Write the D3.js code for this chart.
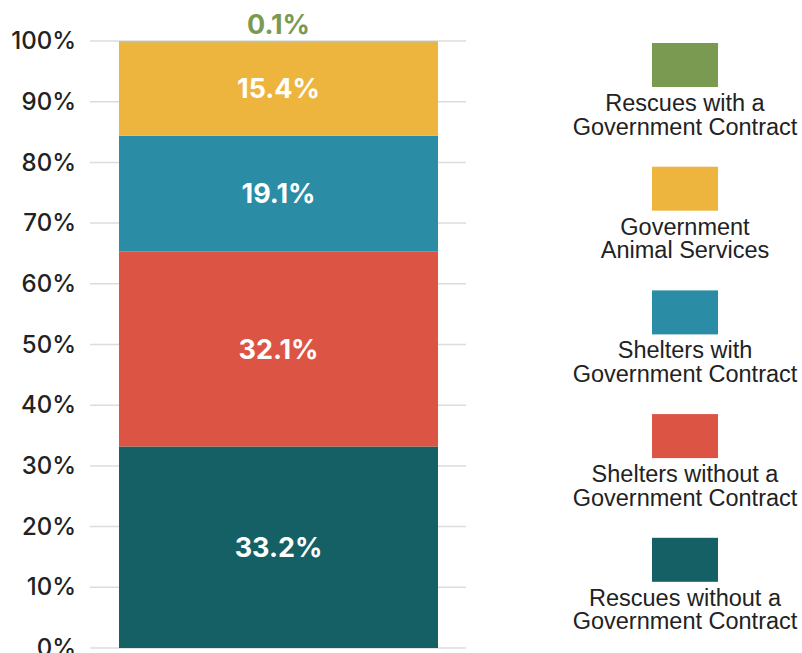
<!DOCTYPE html>
<html>
<head>
<meta charset="utf-8">
<script src="https://cdn.jsdelivr.net/npm/d3@7"></script>
<style>
  body { margin: 0; background: #fff; }
  svg { display: block; }
</style>
</head>
<body>
<svg id="grafico"></svg>
<script>
// dados do gráfico (de baixo para cima)
const categorias = [
  'Rescues without a Government Contract',
  'Shelters without a Government Contract',
  'Shelters with Government Contract',
  'Government Animal Services',
  'Rescues with a Government Contract'
];
const valores = [33.2, 32.1, 19.1, 15.4, 0.1];
const cores = ['#146064', '#dc5443', '#2a8ca5', '#edb53e', '#7a9a52'];
const legendaLinhas = [
  ['Rescues without a', 'Government Contract'],
  ['Shelters without a', 'Government Contract'],
  ['Shelters with', 'Government Contract'],
  ['Government', 'Animal Services'],
  ['Rescues with a', 'Government Contract']
];
const ticks = [0, 10, 20, 30, 40, 50, 60, 70, 80, 90, 100];

const largura = 802, altura = 653;
let svg = d3.select('#grafico').attr('width', largura).attr('height', altura);

// escalas
let fnY = d3.scaleLinear().domain([0, 100]).range([648, 41]);
let fnX = d3.scaleBand().domain(['total']).range([90, 467]).paddingInner(0).paddingOuter(0.0909);

// linhas de grade
svg.append('g')
  .selectAll('line')
  .data(ticks)
  .enter()
  .append('line')
  .attr('x1', 90).attr('x2', 466)
  .attr('y1', d => fnY(d)).attr('y2', d => fnY(d))
  .attr('stroke', '#dcdcdc').attr('stroke-width', 1.5);

// eixo y
let eixoY = svg.append('g')
  .attr('transform', 'translate(76,0)')
  .call(d3.axisLeft(fnY).tickValues(ticks).tickFormat(d => d + '%').tickSize(0).tickPadding(0));
eixoY.select('.domain').remove();
eixoY.selectAll('text')
  .attr('font-family', 'Inter, sans-serif')
  .attr('font-weight', 500)
  .attr('font-size', 24)
  .attr('fill', '#222');

// empilhamento
let acumulado = 0;
const pilha = valores.map((v, i) => {
  const y0 = acumulado;
  acumulado += v;
  return { y0: y0, y1: acumulado, v: v, cor: cores[i], cat: categorias[i] };
});

svg.append('g')
  .selectAll('rect')
  .data(pilha)
  .enter()
  .append('rect')
  .attr('x', fnX('total'))
  .attr('width', fnX.bandwidth())
  .attr('y', d => fnY(d.y1))
  .attr('height', d => fnY(d.y0) - fnY(d.y1))
  .attr('fill', d => d.cor);

// rótulos
svg.append('g')
  .selectAll('text')
  .data(pilha)
  .enter()
  .append('text')
  .attr('x', fnX('total') + fnX.bandwidth() / 2)
  .attr('y', d => d.v < 1 ? 25 : fnY((d.y0 + d.y1) / 2))
  .attr('dy', '0.35em')
  .attr('text-anchor', 'middle')
  .attr('font-family', 'Inter, sans-serif')
  .attr('font-weight', 700)
  .attr('font-size', 27)
  .attr('fill', d => d.v < 1 ? d.cor : '#fff')
  .text(d => d.v + '%');

// legenda (de cima para baixo)
const ordemLegenda = d3.range(valores.length).reverse();
let legenda = svg.append('g')
  .selectAll('g')
  .data(ordemLegenda)
  .enter()
  .append('g')
  .attr('transform', (d, i) => 'translate(685,' + (43 + i * 123.7) + ')');

legenda.append('rect')
  .attr('x', -33).attr('y', 0)
  .attr('width', 66).attr('height', 44)
  .attr('fill', d => cores[d]);

legenda.append('text')
  .attr('text-anchor', 'middle')
  .attr('font-family', '"Liberation Sans", Arial, sans-serif')
  .attr('font-size', 23.5)
  .attr('fill', '#222')
  .selectAll('tspan')
  .data(d => legendaLinhas[d])
  .enter()
  .append('tspan')
  .attr('x', 0)
  .attr('y', (d, i) => 68 + i * 23.5)
  .text(d => d);
</script>
</body>
</html>
